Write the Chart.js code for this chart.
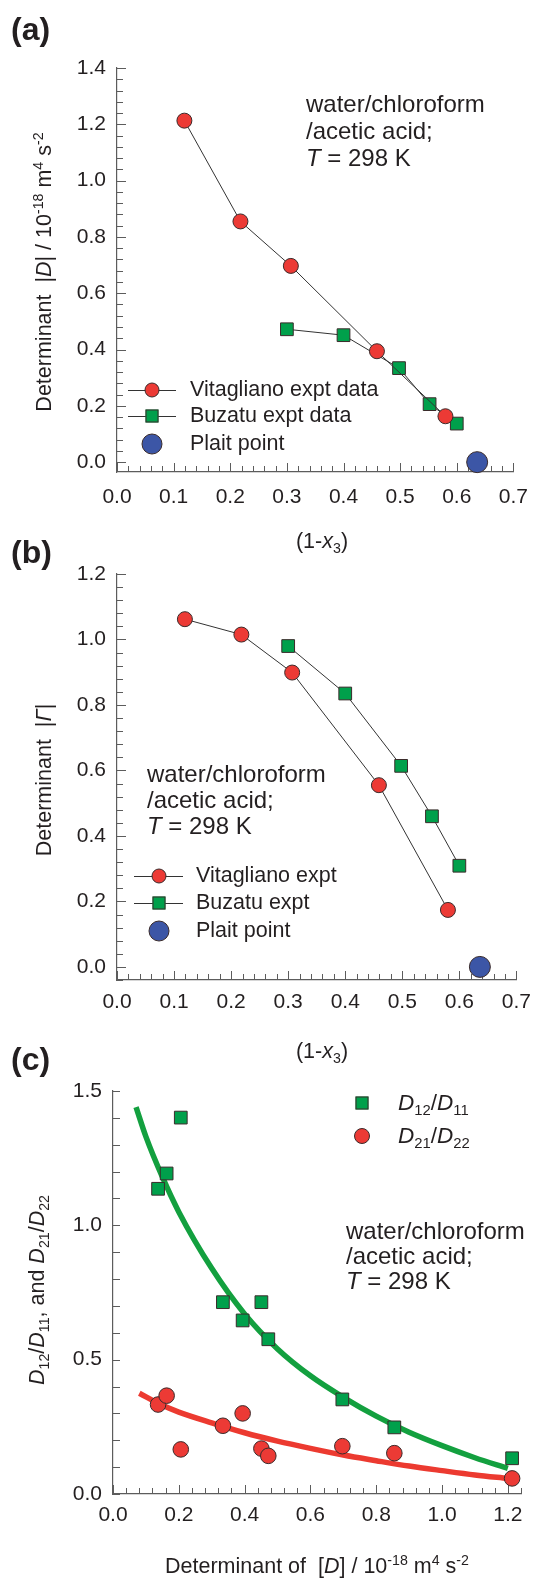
<!DOCTYPE html>
<html>
<head>
<meta charset="utf-8">
<script src="https://cdn.jsdelivr.net/npm/chart.js@4.4.1/dist/chart.umd.min.js"></script>
<style>
body { margin:0; background:#fff; }
#figure { position:relative; width:541px; height:1578px; overflow:hidden; font-family:'Liberation Sans', Arial, sans-serif; color:#231f20; }
#figure canvas { position:absolute; left:0; }
.txt { position:absolute; white-space:nowrap; }
.panel { left:11px; font-size:32px; line-height:32px; font-weight:bold; }
.note { font-size:24px; line-height:27px; }
.ytitle { font-size:21.5px; line-height:1; transform:translate(-50%,-50%) rotate(-90deg); }
.xtitle { font-size:21.5px; line-height:1; transform:translate(-50%,-50%); }
.legtxt { font-size:21.5px; line-height:1; transform:translateY(-50%); }
.legtxt.big { font-size:22.5px; }
.legline { position:absolute; height:1px; background:#333; }
.mk { position:absolute; box-sizing:border-box; border:1px solid #3a2b2b; transform:translate(-50%,-50%); }
.mk.red { width:15px; height:15px; border-radius:50%; background:#ec3a35; }
.mk.green { width:13px; height:13px; background:#00a04b; }
.mk.blue { width:21px; height:21px; border-radius:50%; background:#3c56a6; }
.mk.sred { width:16px; height:16px; border-radius:50%; background:#ec3a35; }
.mk.sgreen { width:13px; height:13px; background:#00a04b; }
sub, sup { font-size:0.66em; line-height:0; position:relative; vertical-align:baseline; }
sup { top:-0.6em; }
sub { top:0.32em; }
</style>
</head>
<body>
<div id="figure">
  <canvas id="chartA" width="541" height="520" style="top:0px"></canvas>
  <canvas id="chartB" width="541" height="500" style="top:530px"></canvas>
  <canvas id="chartC" width="541" height="538" style="top:1040px"></canvas>

  <div class="txt panel" style="top:13px">(a)</div>
  <div class="txt panel" style="top:536px">(b)</div>
  <div class="txt panel" style="top:1043px">(c)</div>

  <div class="txt note" style="left:306px; top:90px">water/chloroform<br>/acetic acid;<br><i>T</i> = 298 K</div>
  <div class="txt note" style="left:147px; top:761px; line-height:26px">water/chloroform<br>/acetic acid;<br><i>T</i> = 298 K</div>
  <div class="txt note" style="left:346px; top:1218px; line-height:25px">water/chloroform<br>/acetic acid;<br><i>T</i> = 298 K</div>

  <div class="txt ytitle" style="left:45px; top:272px">Determinant &nbsp;|<i>D</i>| / 10<sup>-18</sup> m<sup>4</sup> s<sup>-2</sup></div>
  <div class="txt ytitle" style="left:45px; top:780px">Determinant &nbsp;|<i>Γ</i>|</div>
  <div class="txt ytitle" style="left:38px; top:1290px"><i>D</i><sub>12</sub>/<i>D</i><sub>11</sub>, and <i>D</i><sub>21</sub>/<i>D</i><sub>22</sub></div>

  <div class="txt xtitle" style="left:322px; top:542px">(1-<i>x</i><sub>3</sub>)</div>
  <div class="txt xtitle" style="left:322px; top:1052px">(1-<i>x</i><sub>3</sub>)</div>
  <div class="txt xtitle" style="left:317px; top:1567px">Determinant of &nbsp;[<i>D</i>] / 10<sup>-18</sup> m<sup>4</sup> s<sup>-2</sup></div>
</div>

<script>
// (a) and (b): experimental points against (1-x3)
var vitaX = [0.119, 0.218, 0.307, 0.459, 0.580];
var vitaD = [1.213, 0.855, 0.697, 0.394, 0.163];
var vitaG = [1.062, 1.015, 0.899, 0.555, 0.174];
var buzX = [0.300, 0.400, 0.498, 0.552, 0.600];
var buzD = [0.472, 0.451, 0.334, 0.206, 0.137];
var buzG = [0.980, 0.835, 0.614, 0.460, 0.309];
var plaitX = [0.636];
var plaitY = [0.0];

// (c): cross-coefficient ratios against |D|
var detD = [0.137, 0.163, 0.206, 0.334, 0.394, 0.451, 0.472, 0.697, 0.855, 1.213];
var d12d11 = [1.136, 1.193, 1.401, 0.714, 0.646, 0.714, 0.576, 0.352, 0.248, 0.133];
var d21d22 = [0.333, 0.366, 0.166, 0.254, 0.300, 0.169, 0.142, 0.178, 0.152, 0.058];

// fitted trend curves for (c)
var fit12X = [0.07, 0.10, 0.15, 0.20, 0.30, 0.40, 0.50, 0.60, 0.70, 0.80, 0.90, 1.00, 1.10, 1.20];
var fit12Y = [1.44, 1.33, 1.18, 1.05, 0.84, 0.67, 0.54, 0.44, 0.36, 0.29, 0.23, 0.18, 0.135, 0.095];
var fit21X = [0.08, 0.15, 0.20, 0.30, 0.40, 0.50, 0.60, 0.70, 0.80, 0.90, 1.00, 1.10, 1.20];
var fit21Y = [0.375, 0.33, 0.305, 0.265, 0.228, 0.197, 0.170, 0.145, 0.124, 0.104, 0.087, 0.071, 0.058];

// tick labels
var ticksX07 = [0.0, 0.1, 0.2, 0.3, 0.4, 0.5, 0.6, 0.7];
var ticksYA = [0.0, 0.2, 0.4, 0.6, 0.8, 1.0, 1.2, 1.4];
var ticksYB = [0.0, 0.2, 0.4, 0.6, 0.8, 1.0, 1.2];
var ticksXC = [0.0, 0.2, 0.4, 0.6, 0.8, 1.0, 1.2];
var ticksYC = [0.0, 0.5, 1.0, 1.5];

var RED = '#ec3a35';
var GREEN = '#00a04b';
var BLUE = '#3c56a6';
var EDGE = '#3a2b2b';
var AXIS = '#5c5c5c';
var TEXT = '#231f20';

Chart.defaults.font.family = "'Liberation Sans', Arial, sans-serif";
Chart.defaults.color = TEXT;

function pts(xs, ys) {
    var out = [];
    for (var i = 0; i < xs.length; i++) out.push({x: xs[i], y: ys[i]});
    return out;
}

// short tick marks pointing into the plot, major and minor
var innerTicks = {
    id: 'innerTicks',
    beforeDatasetsDraw: function (chart, args, opts) {
        var ctx = chart.ctx;
        var area = chart.chartArea;
        ctx.save();
        ctx.strokeStyle = AXIS;
        ctx.lineWidth = 1;
        ctx.beginPath();
        ['x', 'y'].forEach(function (id) {
            var sc = chart.scales[id];
            var t = opts[id];
            var first = Math.ceil(sc.min / t.minor - 1e-6);
            var last = Math.floor(sc.max / t.minor + 1e-6);
            for (var k = first; k <= last; k++) {
                var v = k * t.minor;
                var r = v / t.major;
                var len = Math.abs(r - Math.round(r)) < 1e-6 ? t.majorLen : t.minorLen;
                var p = Math.round(sc.getPixelForValue(v)) + 0.5;
                if (id === 'x') {
                    ctx.moveTo(p, area.bottom);
                    ctx.lineTo(p, area.bottom - len);
                } else {
                    ctx.moveTo(area.left, p);
                    ctx.lineTo(area.left + len, p);
                }
            }
        });
        ctx.stroke();
        ctx.restore();
    }
};

function axis(min, max, tickList, pad, size, horizontal) {
    return {
        type: 'linear',
        min: min,
        max: max,
        grid: {display: false, drawTicks: false},
        border: {display: true, color: AXIS, width: 1.2},
        ticks: {
            font: {size: 21},
            color: TEXT,
            padding: pad,
            autoSkip: false,
            maxRotation: 0,
            callback: function (v) { return v.toFixed(1); }
        },
        afterBuildTicks: function (sc) {
            sc.ticks = tickList.map(function (v) { return {value: v}; });
        },
        afterFit: function (sc) {
            if (horizontal) sc.height = size; else sc.width = size;
        }
    };
}

function expSeries(xs, ys, style, color, radius) {
    return {
        data: pts(xs, ys),
        showLine: true,
        borderColor: '#333',
        borderWidth: 1,
        pointStyle: style,
        pointRadius: radius,
        pointHoverRadius: radius,
        pointBackgroundColor: color,
        pointBorderColor: EDGE,
        pointBorderWidth: 1,
        clip: false
    };
}

function plaitSeries() {
    return {
        data: pts(plaitX, plaitY),
        showLine: false,
        pointStyle: 'circle',
        pointRadius: 10.5,
        pointHoverRadius: 10.5,
        pointBackgroundColor: BLUE,
        pointBorderColor: EDGE,
        pointBorderWidth: 1,
        clip: false
    };
}

function baseOptions(padTop, padRight, tickOpts) {
    return {
        responsive: false,
        animation: false,
        events: [],
        layout: {padding: {left: 0, right: padRight, top: padTop, bottom: 0}},
        plugins: {legend: {display: false}, tooltip: {enabled: false}, innerTicks: tickOpts}
    };
}

// panel (a)
var optsA = baseOptions(68, 17, {
    x: {major: 0.1, minor: 0.02, majorLen: 9, minorLen: 6},
    y: {major: 0.2, minor: 0.04, majorLen: 9, minorLen: 6}
});
optsA.scales = {
    x: axis(0, 0.7, ticksX07, 13, 48, true),
    y: axis(-0.035, 1.4, ticksYA, 11, 117, false)
};
new Chart(document.getElementById('chartA'), {
    type: 'scatter',
    data: {datasets: [
        expSeries(vitaX, vitaD, 'circle', RED, 7.5),
        expSeries(buzX, buzD, 'rect', GREEN, 9),
        plaitSeries()
    ]},
    options: optsA,
    plugins: [innerTicks]
});

// panel (b)
var optsB = baseOptions(44, 17, {
    x: {major: 0.1, minor: 0.02, majorLen: 9, minorLen: 6},
    y: {major: 0.2, minor: 0.04, majorLen: 9, minorLen: 6}
});
optsB.scales = {
    x: axis(0, 0.7, ticksX07, 10, 50, true),
    y: axis(-0.04, 1.2, ticksYB, 11, 117, false)
};
new Chart(document.getElementById('chartB'), {
    type: 'scatter',
    data: {datasets: [
        expSeries(vitaX, vitaG, 'circle', RED, 7.5),
        expSeries(buzX, buzG, 'rect', GREEN, 9),
        plaitSeries()
    ]},
    options: optsB,
    plugins: [innerTicks]
});

// panel (c)
function fitSeries(xs, ys, color) {
    return {
        data: pts(xs, ys),
        showLine: true,
        borderColor: color,
        borderWidth: 5.5,
        pointRadius: 0,
        cubicInterpolationMode: 'monotone',
        order: 2,
        clip: false
    };
}
function ratioSeries(ys, style, color, radius) {
    return {
        data: pts(detD, ys),
        showLine: false,
        pointStyle: style,
        pointRadius: radius,
        pointHoverRadius: radius,
        pointBackgroundColor: color,
        pointBorderColor: EDGE,
        pointBorderWidth: 1,
        order: 1,
        clip: false
    };
}
var optsC = baseOptions(51, 20, {
    x: {major: 0.2, minor: 0.04, majorLen: 9, minorLen: 6},
    y: {major: 0.5, minor: 0.1, majorLen: 7, minorLen: 7}
});
optsC.scales = {
    x: axis(0, 1.24, ticksXC, 9, 84, true),
    y: axis(0, 1.5, ticksYC, 11, 113, false)
};
new Chart(document.getElementById('chartC'), {
    type: 'scatter',
    data: {datasets: [
        fitSeries(fit12X, fit12Y, '#13a03f'),
        fitSeries(fit21X, fit21Y, '#ec3a30'),
        ratioSeries(d12d11, 'rect', GREEN, 9),
        ratioSeries(d21d22, 'circle', RED, 7.8)
    ]},
    options: optsC,
    plugins: [innerTicks]
});

// legends
var fig = document.getElementById('figure');
function legendRow(y, x1, x2, mx, tx, marker, label, cls) {
    if (x1 !== null) {
        var ln = document.createElement('div');
        ln.className = 'legline';
        ln.style.left = x1 + 'px';
        ln.style.width = (x2 - x1) + 'px';
        ln.style.top = (y - 0.5) + 'px';
        fig.appendChild(ln);
    }
    var mk = document.createElement('div');
    mk.className = 'mk ' + marker;
    mk.style.left = mx + 'px';
    mk.style.top = y + 'px';
    fig.appendChild(mk);
    var tt = document.createElement('div');
    tt.className = 'txt legtxt' + (cls ? ' ' + cls : '');
    tt.style.left = tx + 'px';
    tt.style.top = y + 'px';
    tt.innerHTML = label;
    fig.appendChild(tt);
}

legendRow(390, 128, 176, 152, 190, 'red', 'Vitagliano expt data');
legendRow(416, 128, 176, 152, 190, 'green', 'Buzatu expt data');
legendRow(444, null, null, 152, 190, 'blue', 'Plait point');

legendRow(876, 134, 183, 158.5, 196, 'red', 'Vitagliano expt');
legendRow(903, 134, 183, 158.5, 196, 'green', 'Buzatu expt');
legendRow(931, null, null, 158.5, 196, 'blue', 'Plait point');

legendRow(1103, null, null, 362, 398, 'sgreen', '<i>D</i><sub>12</sub>/<i>D</i><sub>11</sub>', 'big');
legendRow(1136, null, null, 362, 398, 'sred', '<i>D</i><sub>21</sub>/<i>D</i><sub>22</sub>', 'big');
</script>
</body>
</html>
